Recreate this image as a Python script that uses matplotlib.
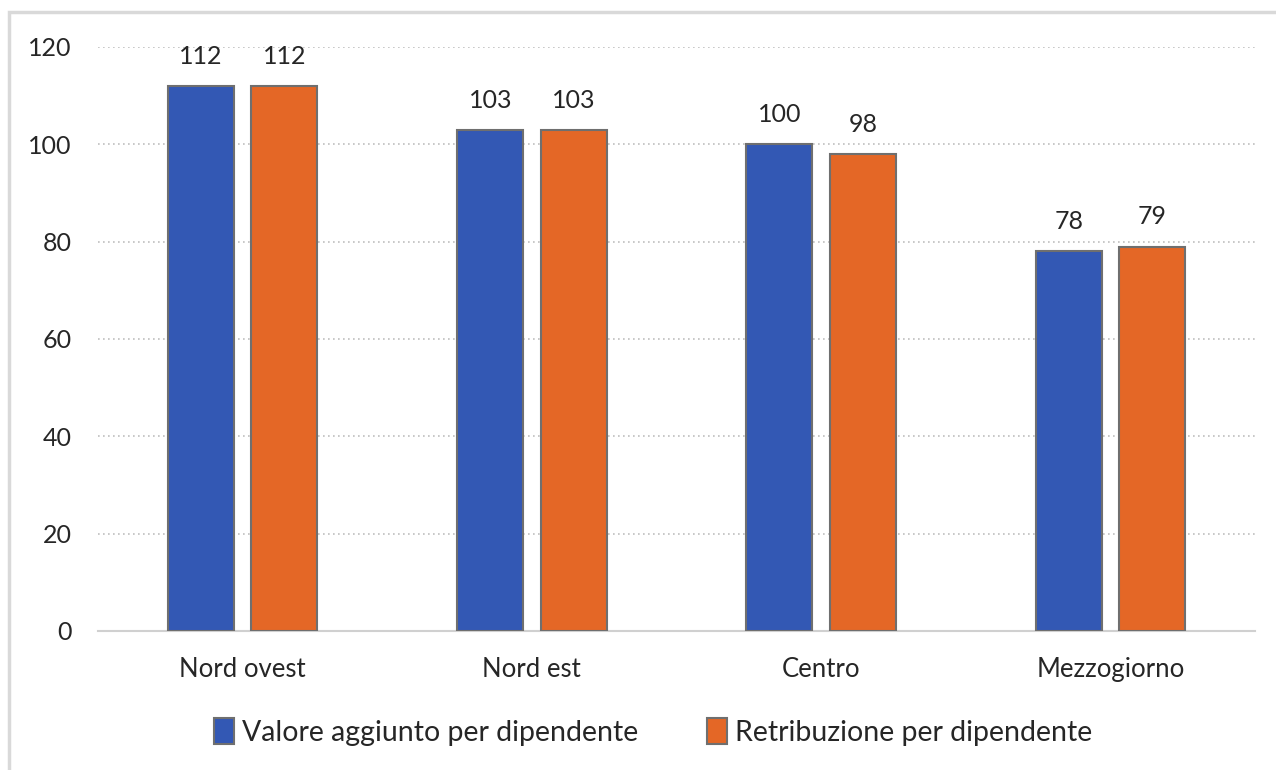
import matplotlib.pyplot as plt
import numpy as np
from matplotlib.patches import Rectangle

plt.rcParams['font.family'] = ['Lato', 'DejaVu Sans']

regioni = ["Nord ovest", "Nord est", "Centro", "Mezzogiorno"]
valore_aggiunto = [112, 103, 100, 78]
retribuzione = [112, 103, 98, 79]
serie = ["Valore aggiunto per dipendente", "Retribuzione per dipendente"]

blu = "#3358b4"
arancio = "#e46726"
bordo = "#6f6f6f"

fig = plt.figure(figsize=(12.76, 7.7), dpi=100)
# cornice grigia chiara attorno al grafico
fig.patches.append(Rectangle((9/1276, -0.05), 1.1, 1 - 12/770 + 0.05,
                             transform=fig.transFigure, fill=False,
                             edgecolor="#d9d9d9", linewidth=2.5))

ax = fig.add_axes([98/1276, 1 - 631/770, 1157/1276, 584/770])

x = np.arange(len(regioni))
w = 0.228
off = 0.144
b1 = ax.bar(x - off, valore_aggiunto, w, color=blu, edgecolor=bordo, linewidth=1.5,
            label=serie[0], zorder=3)
b2 = ax.bar(x + off, retribuzione, w, color=arancio, edgecolor=bordo, linewidth=1.5,
            label=serie[1], zorder=3)

for bars in (b1, b2):
    ax.bar_label(bars, labels=[str(v) for v in bars.datavalues], padding=13,
                 fontsize=18, color="#262626")

ax.set_xlim(-0.5, 3.5)
ax.set_ylim(0, 120)
ax.set_yticks(range(0, 121, 20))
ax.yaxis.grid(True, linestyle=(0, (1, 2)), color="#bfbfbf", linewidth=1.2, zorder=0)
ax.set_axisbelow(True)

for s in ["top", "right", "left"]:
    ax.spines[s].set_visible(False)
ax.spines["bottom"].set_color("#d0d0d0")
ax.spines["bottom"].set_linewidth(1.5)

ax.set_xticks(x)
ax.set_xticklabels(regioni)
ax.tick_params(axis="both", length=0, labelsize=18, labelcolor="#262626")
ax.tick_params(axis="x", labelsize=18.5, pad=19)
ax.tick_params(axis="y", pad=19)

fig.legend(handles=[b1, b2], loc="center", bbox_to_anchor=(653/1276, 1 - 732/770),
           ncol=2, frameon=False, fontsize=20.5, handlelength=0.7,
           handleheight=1.0, handletextpad=0.3, columnspacing=2.4,
           labelcolor="#262626")

fig.savefig("out.png", dpi=100, facecolor="white")
